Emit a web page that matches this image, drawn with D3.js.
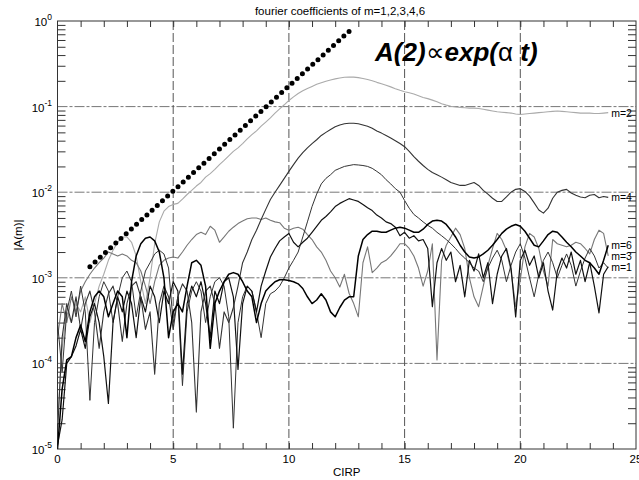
<!DOCTYPE html>
<html>
<head>
<meta charset="utf-8">
<script src="https://cdn.jsdelivr.net/npm/d3@7"></script>
<style>
  body { margin: 0; background: #fff; }
  text { font-family: "Liberation Sans", Arial, Helvetica, sans-serif; fill: #000; }
</style>
</head>
<body>
<svg id="chart" width="639" height="480"></svg>
<script>
// sample positions along CIRP (every 0.2)
const cirp = d3.range(120).map(i => +(i * 0.2).toFixed(1))

// |A(m)|, one value per sample
const m2 = [
  2e-5, 1.5e-4, 4e-4, 3e-4, 5e-4, 4e-4, 6e-4, 3e-4, 5e-4, 8e-4,
  1.1e-3, 1.6e-3, 2.1e-3, 2.6e-3, 3e-3, 3e-3, 2.6e-3, 1.8e-3, 9e-4, 5e-4,
  1e-3, 2.5e-3, 4.5e-3, 6e-3, 6.8e-3, 7.2e-3, 7.4e-3, 8.3e-3, 9.4e-3, 1.05e-2,
  1.18e-2, 1.3e-2, 1.5e-2, 1.65e-2, 1.85e-2, 2.1e-2, 2.35e-2, 2.65e-2, 3e-2, 3.3e-2,
  3.7e-2, 4.2e-2, 4.7e-2, 5.2e-2, 5.9e-2, 6.6e-2, 7.4e-2, 8.4e-2, 9.4e-2, 0.105,
  0.118, 0.13, 0.142, 0.153, 0.163, 0.172, 0.182, 0.19, 0.198, 0.205,
  0.211, 0.216, 0.22, 0.222, 0.221, 0.218, 0.213, 0.207, 0.2, 0.192,
  0.185, 0.178, 0.17, 0.162, 0.155, 0.149, 0.145, 0.14, 0.134, 0.128,
  0.124, 0.119, 0.114, 0.108, 0.104, 0.101, 0.099, 0.098, 0.097, 0.096,
  0.096, 0.095, 0.093, 0.091, 0.089, 0.087, 0.086, 0.085, 0.084, 0.082,
  0.081, 0.082, 0.083, 0.084, 0.085, 0.086, 0.087, 0.088, 0.089, 0.088,
  0.087, 0.086, 0.085, 0.084, 0.084, 0.084, 0.083, 0.083, 0.084, 0.085
]
const m4 = [
  1.5e-5, 2e-4, 5e-4, 3e-4, 6e-4, 2.5e-4, 5e-4, 7e-4, 4e-4, 1.5e-4,
  4e-4, 6.5e-4, 8e-4, 5e-4, 1.8e-4, 5e-4, 8e-4, 9e-4, 6e-4, 2.5e-4,
  4e-4, 7.5e-5, 5e-4, 8e-4, 6e-4, 2.5e-4, 6e-4, 8.5e-4, 7e-4, 3e-4,
  2.7e-5, 4e-4, 7e-4, 8e-4, 5e-4, 1.5e-4, 4e-4, 3e-4, 4.5e-4, 8e-4,
  1.5e-3, 2e-3, 2.8e-3, 3.6e-3, 4.8e-3, 6.3e-3, 8.2e-3, 1e-2, 1.2e-2, 1.45e-2,
  1.75e-2, 2.1e-2, 2.5e-2, 2.9e-2, 3.3e-2, 3.7e-2, 4.1e-2, 4.6e-2, 5e-2, 5.4e-2,
  5.8e-2, 6.1e-2, 6.3e-2, 6.4e-2, 6.4e-2, 6.3e-2, 6.1e-2, 5.9e-2, 5.6e-2, 5.2e-2,
  4.9e-2, 4.6e-2, 4.3e-2, 4e-2, 3.7e-2, 3.4e-2, 3e-2, 2.6e-2, 2.3e-2, 2.05e-2,
  1.85e-2, 1.7e-2, 1.6e-2, 1.5e-2, 1.4e-2, 1.3e-2, 1.25e-2, 1.2e-2, 1.2e-2, 1.25e-2,
  1.3e-2, 1.2e-2, 1.05e-2, 9.5e-3, 8.5e-3, 7.8e-3, 7.8e-3, 8.8e-3, 1e-2, 1.08e-2,
  1.1e-2, 1.02e-2, 9e-3, 7.5e-3, 6.2e-3, 5.7e-3, 6.5e-3, 8.5e-3, 1e-2, 1.05e-2,
  1.08e-2, 9.8e-3, 9.2e-3, 8.8e-3, 8.6e-3, 9.2e-3, 9.4e-3, 8.6e-3, 8.9e-3, 8.7e-3
]
const m6 = [
  1e-5, 5e-5, 1.1e-4, 1.2e-4, 2e-4, 2.8e-4, 1.8e-4, 4e-4, 6e-4, 7e-4,
  6e-4, 3.5e-4, 5e-4, 7e-4, 6e-4, 2e-4, 9e-4, 1.8e-3, 2.5e-3, 2.9e-3,
  3e-3, 2.7e-3, 2e-3, 1e-3, 2e-4, 4e-4, 5e-4, 4e-4, 8e-4, 1.5e-3,
  1.6e-3, 1.4e-3, 8e-4, 1.5e-4, 5e-4, 7e-4, 9e-4, 1.1e-3, 1.15e-3, 1.1e-3,
  9e-4, 7e-4, 6e-4, 3e-4, 5e-4, 7e-4, 8e-4, 9e-4, 9.5e-4, 9.5e-4,
  9.3e-4, 9e-4, 8.5e-4, 7.5e-4, 6e-4, 5e-4, 5.5e-4, 6.5e-4, 5.5e-4, 4e-4,
  3.5e-4, 4.5e-4, 5.5e-4, 6e-4, 6e-4, 1.8e-3, 2.8e-3, 3.2e-3, 3.5e-3, 3.5e-3,
  3.4e-3, 3.4e-3, 3.6e-3, 3.8e-3, 3.9e-3, 3.8e-3, 3.6e-3, 3.4e-3, 3.4e-3, 3.7e-3,
  4.2e-3, 4.6e-3, 4.7e-3, 4.6e-3, 4.2e-3, 3.6e-3, 3e-3, 2.4e-3, 2e-3, 1.75e-3,
  1.7e-3, 1.75e-3, 1.9e-3, 2.1e-3, 2.4e-3, 2.8e-3, 3.3e-3, 3.7e-3, 4e-3, 4.2e-3,
  4e-3, 3.5e-3, 2.9e-3, 2.4e-3, 2.3e-3, 2.7e-3, 3.2e-3, 3.5e-3, 3.4e-3, 3e-3,
  2.6e-3, 2.3e-3, 2e-3, 1.8e-3, 1.6e-3, 1.5e-3, 1.3e-3, 1.1e-3, 1.6e-3, 2.4e-3
]
const m3 = [
  2e-4, 5e-4, 3e-4, 6e-4, 4e-4, 7e-4, 9e-4, 1.1e-3, 1.3e-3, 1.5e-3,
  1.7e-3, 2e-3, 1.9e-3, 1.8e-3, 1.9e-3, 1.8e-3, 1.6e-3, 1.5e-3, 1.2e-3, 8e-4,
  5e-4, 9e-4, 1.4e-3, 1.6e-3, 1.7e-3, 1.75e-3, 1.7e-3, 2e-3, 2.4e-3, 2.8e-3,
  3.2e-3, 3.4e-3, 3.2e-3, 4e-3, 3.6e-3, 2.6e-3, 3e-3, 3.5e-3, 3.9e-3, 4.3e-3,
  4.6e-3, 4.9e-3, 5e-3, 5e-3, 4.8e-3, 5e-3, 4.7e-3, 4.5e-3, 4.4e-3, 3.8e-3,
  3.6e-3, 3.8e-3, 3.9e-3, 3.7e-3, 3.2e-3, 2.8e-3, 2.3e-3, 2e-3, 1.6e-3, 1.2e-3,
  1e-3, 7.8e-4, 1.1e-3, 6.6e-4, 5e-4, 3.5e-4, 1.5e-3, 2.3e-3, 1.15e-3, 1.3e-3,
  1.5e-3, 1.6e-3, 1.8e-3, 2.1e-3, 2.5e-3, 2.5e-3, 2.2e-3, 1.8e-3, 1.3e-3, 8e-4,
  1.2e-3, 2.5e-3, 1.1e-4, 1.6e-3, 2.4e-3, 3e-3, 3.8e-3, 3.2e-3, 2.2e-3, 1e-3,
  6e-4, 4.6e-4, 8e-4, 1.4e-3, 2.2e-3, 3.3e-3, 2.8e-3, 2.1e-3, 1.2e-3, 4.6e-4,
  9.5e-4, 2.3e-3, 3.3e-3, 3e-3, 2.2e-3, 1.2e-3, 8e-4, 2.8e-3, 2.5e-3, 2.4e-3,
  2.3e-3, 2.4e-3, 2.6e-3, 2.5e-3, 2.2e-3, 1.9e-3, 2.8e-3, 3.6e-3, 3.3e-3, 1.8e-3
]
const m1 = [
  1.1e-5, 2.2e-5, 1e-4, 1.2e-4, 1.6e-4, 2.5e-4, 1.5e-4, 3.5e-4, 5e-4, 3e-4,
  1.2e-4, 3.4e-5, 3e-4, 6e-4, 4e-4, 7e-4, 5e-4, 2e-4, 6e-4, 4e-4,
  8e-4, 6e-4, 3e-4, 7e-4, 5e-4, 9e-4, 7e-4, 7.5e-5, 5e-4, 8e-4,
  6e-4, 9e-4, 5e-4, 2e-4, 7e-4, 5e-4, 9e-4, 1e-3, 6e-4, 8.5e-5,
  5e-4, 8e-4, 7e-4, 4e-4, 8e-4, 1.2e-3, 1.75e-3, 2.2e-3, 2.7e-3, 3e-3,
  3.3e-3, 2.6e-3, 2.3e-3, 2.6e-3, 2.9e-3, 3.4e-3, 4e-3, 4.7e-3, 5.2e-3, 5.9e-3,
  6.8e-3, 7.4e-3, 7.9e-3, 8.4e-3, 8.1e-3, 7.8e-3, 7.2e-3, 6.6e-3, 6.1e-3, 5.4e-3,
  5e-3, 4.5e-3, 4.3e-3, 3.9e-3, 3.1e-3, 3.4e-3, 2.9e-3, 3.1e-3, 2.7e-3, 2.8e-3,
  2.2e-3, 4.6e-4, 1.5e-3, 2.2e-3, 1.6e-3, 2e-3, 9e-4, 1.4e-3, 6e-4, 1.6e-3,
  1.2e-3, 1.9e-3, 1e-3, 1.5e-3, 5e-4, 1.1e-3, 1.8e-3, 2.2e-3, 1.3e-3, 3.5e-4,
  1.6e-3, 2.1e-3, 1.4e-3, 1.8e-3, 1e-3, 1.5e-3, 7e-4, 4.2e-4, 1.2e-3, 1.7e-3,
  1.3e-3, 2e-3, 1.1e-3, 1.6e-3, 9e-4, 1.5e-3, 8e-4, 3.9e-4, 1.1e-3, 1.35e-3
]
// one more unlabelled curve in the picture
const mx = [
  3e-4, 8e-5, 4e-4, 7e-4, 3.5e-4, 8e-4, 4e-4, 3.7e-5, 3e-4, 6e-4,
  9e-4, 7e-4, 3e-4, 6e-4, 1e-3, 1.2e-3, 9e-4, 3.5e-4, 7e-4, 1.2e-3,
  1.5e-3, 1.9e-3, 2.1e-3, 1.9e-3, 1.3e-3, 3e-4, 6e-4, 5.5e-5, 4e-4, 7e-4,
  9e-4, 7e-4, 3e-4, 6e-4, 9e-4, 1e-3, 8e-4, 3.5e-4, 1.75e-5, 3e-4,
  6e-4, 8e-4, 7e-4, 4e-4, 2e-4, 5e-4, 6.5e-4, 7e-4, 8e-4, 1e-3,
  1.3e-3, 1.6e-3, 2e-3, 3e-3, 4.5e-3, 6.8e-3, 9.5e-3, 1.25e-2, 1.45e-2, 1.6e-2,
  1.8e-2, 1.9e-2, 2e-2, 2.05e-2, 2.1e-2, 2.08e-2, 2.05e-2, 2e-2, 1.9e-2, 1.75e-2,
  1.6e-2, 1.4e-2, 1.25e-2, 1.1e-2, 1e-2, 8e-3, 6.5e-3, 5.5e-3, 5e-3, 4.5e-3,
  4.1e-3, 3.8e-3, 3.4e-3, 3.1e-3, 2.8e-3, 2.5e-3, 2.2e-3, 1.9e-3, 1.7e-3, 1.5e-3,
  1.3e-3, 1.2e-3, 9e-4, 1.3e-3, 1.7e-3, 2.1e-3, 1.6e-3, 9e-4, 1.4e-3, 2e-3,
  2.5e-3, 1.7e-3, 1e-3, 6e-4, 1.1e-3, 1.6e-3, 2e-3, 1.5e-3, 1e-3, 1.4e-3,
  1.9e-3, 1.4e-3, 8e-4, 1.2e-3, 1.7e-3, 2.2e-3, 1.8e-3, 1.3e-3, 1.5e-3, 1.3e-3
]

// exp growth guide for m=2
const fitX = [1.4, 12.7]
const fitY = [1.35e-3, 0.8]

const xTicks = [0, 5, 10, 15, 20, 25]
const yExps = [0, -1, -2, -3, -4, -5]

const svg = d3.select('#chart')
const x = d3.scaleLinear().domain([0, 25]).range([57.5, 636])
const y = d3.scaleLog().domain([1e-5, 1]).range([449, 21])

svg.append('defs').append('clipPath').attr('id', 'plot')
  .append('rect')
  .attr('x', x(0)).attr('y', y(1))
  .attr('width', x(25) - x(0)).attr('height', y(1e-5) - y(1))

// grid
svg.append('g').selectAll('line').data([1e-1, 1e-2, 1e-3, 1e-4]).join('line')
  .attr('x1', x(0)).attr('x2', x(25))
  .attr('y1', d => y(d)).attr('y2', d => y(d))
  .attr('stroke', '#777').attr('stroke-dasharray', '10,2,3,2')
svg.append('g').selectAll('line').data([5, 10, 15, 20]).join('line')
  .attr('x1', d => x(d)).attr('x2', d => x(d))
  .attr('y1', y(1)).attr('y2', y(1e-5))
  .attr('stroke', '#555').attr('stroke-dasharray', '9,3')

// minor ticks, all pointing inward
const xMinor = d3.range(1, 25)
const yMinor = []
for (let e = -5; e < 0; e++) {
  for (let k = 2; k < 10; k++) yMinor.push(k * Math.pow(10, e))
}
const noDomain = g => g.select('.domain').remove()
svg.append('g').attr('transform', `translate(0,${y(1e-5)})`)
  .call(d3.axisTop(x).tickValues(xMinor).tickSize(6).tickFormat('')).call(noDomain)
svg.append('g').attr('transform', `translate(0,${y(1)})`)
  .call(d3.axisBottom(x).tickValues(xMinor).tickSize(6).tickFormat('')).call(noDomain)
svg.append('g').attr('transform', `translate(${x(0)},0)`)
  .call(d3.axisRight(y).tickValues(yMinor).tickSize(8).tickFormat('')).call(noDomain)
svg.append('g').attr('transform', `translate(${x(25)},0)`)
  .call(d3.axisLeft(y).tickValues(yMinor).tickSize(8).tickFormat('')).call(noDomain)
svg.selectAll('.tick line').attr('stroke', '#333')

// frame
svg.append('rect')
  .attr('x', x(0)).attr('y', y(1))
  .attr('width', x(25) - x(0)).attr('height', y(1e-5) - y(1))
  .attr('fill', 'none').attr('stroke', '#333')

// curves
const line = d3.line().x((d, i) => x(cirp[i])).y(d => y(d))
const series = [
  { name: 'm=2', values: m2, color: '#aaa', width: 1.1 },
  { name: 'm=3', values: m3, color: '#777', width: 1.1 },
  { name: '', values: mx, color: '#333', width: 1 },
  { name: 'm=1', values: m1, color: '#111', width: 1.2 },
  { name: 'm=4', values: m4, color: '#333', width: 1.1 },
  { name: 'm=6', values: m6, color: '#000', width: 1.5 }
]
const curves = svg.append('g').attr('clip-path', 'url(#plot)')
curves.selectAll('path').data(series).join('path')
  .attr('d', d => line(d.values))
  .attr('fill', 'none')
  .attr('stroke', d => d.color)
  .attr('stroke-width', d => d.width)
  .attr('stroke-linejoin', 'round')

// end labels
const last = cirp.length - 1
svg.append('g').selectAll('text').data(series.filter(d => d.name)).join('text')
  .attr('x', x(cirp[last]) + 3)
  .attr('y', d => y(d.values[last]) + 4)
  .attr('font-size', 10.5)
  .text(d => d.name)

// dotted growth line
svg.append('path')
  .attr('d', d3.line().x(d => x(d[0])).y(d => y(d[1]))(fitX.map((v, i) => [v, fitY[i]])))
  .attr('stroke', '#000').attr('stroke-width', 5)
  .attr('stroke-linecap', 'round').attr('stroke-dasharray', '0,7')

// axis labels
svg.append('g').selectAll('text').data(xTicks).join('text')
  .attr('x', d => x(d)).attr('y', 463)
  .attr('text-anchor', 'middle').attr('font-size', 11.5)
  .text(d => d)

const yl = svg.append('g').selectAll('text').data(yExps).join('text')
  .attr('x', 52).attr('y', d => y(Math.pow(10, d)) + 5)
  .attr('text-anchor', 'end').attr('font-size', 11.5)
yl.append('tspan').text('10')
yl.append('tspan').attr('dy', -6).attr('font-size', 8.5).text(d => d)

svg.append('text')
  .attr('x', (x(0) + x(25)) / 2).attr('y', 476)
  .attr('text-anchor', 'middle').attr('font-size', 11.5)
  .text('CIRP')

svg.append('text')
  .attr('transform', `translate(22,${(y(1) + y(1e-5)) / 2}) rotate(-90)`)
  .attr('text-anchor', 'middle').attr('font-size', 11.5)
  .text('|A(m)|')

svg.append('text')
  .attr('x', 340).attr('y', 15)
  .attr('text-anchor', 'middle').attr('font-size', 11.5)
  .text('fourier coefficients of m=1,2,3,4,6')

const eq = svg.append('text')
  .attr('x', 375).attr('y', 61)
  .attr('font-size', 26).attr('font-weight', 'bold').attr('font-style', 'italic')
eq.append('tspan').text('A(2)')
eq.append('tspan').attr('font-weight', 'normal').attr('font-style', 'normal').text('∝')
eq.append('tspan').text('exp(')
eq.append('tspan').attr('font-weight', 'normal').attr('font-style', 'normal').text('α')
eq.append('tspan').text(' t)')
</script>
</body>
</html>
